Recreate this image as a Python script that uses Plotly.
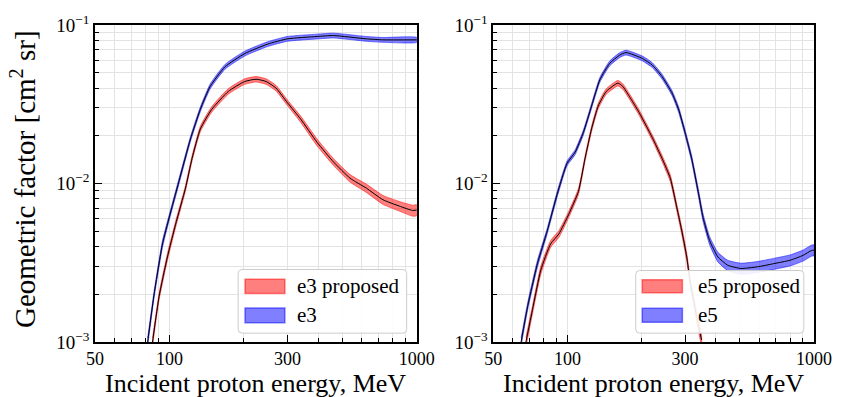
import plotly.graph_objects as go

# ---------------- data ----------------
# Left panel: e3
e3_E = [81.6, 86.8, 93.7, 99.7, 109.2, 121.6, 133.3, 146.1, 167.7, 201.5,
        249.5, 300, 395, 460, 625, 729, 1000]
e3_G = [0.001, 0.00203, 0.00416, 0.00608, 0.0103, 0.0191, 0.0294, 0.041, 0.0545, 0.066,
        0.0758, 0.0818, 0.0846, 0.0858, 0.0818, 0.0806, 0.0806]
e3_err = [0.06, 0.05, 0.05, 0.04, 0.04, 0.035, 0.035, 0.035, 0.035, 0.035,
          0.035, 0.035, 0.035, 0.035, 0.035, 0.035, 0.035]

e3p_E = [85.4, 90.8, 98.1, 105.9, 116.1, 123.4, 133.3, 148.3, 172.9, 201.5, 224,
         245.8, 269.5, 300, 339, 395, 460, 537, 625, 729, 850, 961, 1000]
e3p_G = [0.001, 0.00194, 0.00344, 0.00553, 0.00935, 0.0144, 0.0221, 0.0294, 0.0381, 0.044, 0.0455,
         0.044, 0.040, 0.0323, 0.0255, 0.0182, 0.0137, 0.0108, 0.00935, 0.0079, 0.0072, 0.00676, 0.0068]
e3p_err = [0.06, 0.05, 0.05, 0.045, 0.04, 0.04, 0.04, 0.04, 0.04, 0.04, 0.04,
           0.04, 0.04, 0.04, 0.045, 0.05, 0.05, 0.055, 0.06, 0.065, 0.07, 0.08, 0.08]

# Right panel: e5
e5_E = [64.9, 69, 75.6, 82.9, 90.8, 99.6, 107.6, 116.1, 125.3, 135.4, 148.5, 162.7,
        172.9, 201.5, 220.9, 242, 265.5, 282.3, 300, 319, 339, 355, 377.5, 407.6,
        447, 505, 589, 686, 800, 903, 976, 1000]
e5_G = [0.001, 0.00168, 0.00312, 0.00503, 0.0085, 0.01337, 0.0158, 0.021, 0.0308, 0.0451, 0.0573, 0.0645,
        0.067, 0.0615, 0.0559, 0.0473, 0.0373, 0.0294, 0.021, 0.0144, 0.00892, 0.00609, 0.00436, 0.00344,
        0.00305, 0.00291, 0.00298, 0.00312, 0.00328, 0.00352, 0.00378, 0.0038]
e5_err = [0.06, 0.05, 0.05, 0.04, 0.04, 0.035, 0.035, 0.035, 0.035, 0.035, 0.035, 0.035,
          0.035, 0.035, 0.035, 0.035, 0.035, 0.04, 0.04, 0.045, 0.05, 0.055, 0.06, 0.07,
          0.075, 0.08, 0.08, 0.08, 0.08, 0.08, 0.08, 0.08]

e5p_E = [67.9, 72.2, 78, 85.5, 92.3, 101.2, 110.9, 117.9, 125.3, 133.3, 143.8, 160.2,
         167.7, 178.3, 195.5, 220.9, 242, 261.4, 278, 291, 304.8, 314, 334, 350]
e5p_G = [0.001, 0.0016, 0.00284, 0.00416, 0.0048, 0.00638, 0.00892, 0.01435, 0.0221, 0.0308, 0.0381, 0.043,
         0.041, 0.0355, 0.028, 0.0195, 0.0144, 0.0108, 0.00703, 0.00503, 0.00344, 0.00246, 0.00146, 0.00103]
e5p_err = [0.07, 0.06, 0.06, 0.05, 0.05, 0.045, 0.045, 0.04, 0.04, 0.04, 0.04, 0.04,
           0.04, 0.04, 0.04, 0.04, 0.045, 0.05, 0.05, 0.055, 0.06, 0.06, 0.07, 0.08]

legend_left = ["e3 proposed", "e3"]
legend_right = ["e5 proposed", "e5"]

x_tickvals = [50, 100, 300, 1000]
x_ticktext = ["50", "100", "300", "1000"]
x_minor = [60, 70, 80, 90, 200, 400, 500, 600, 700, 800, 900]
y_tickvals = [1e-3, 1e-2, 1e-1]
y_ticktext = ["10<sup>−3</sup>", "10<sup>−2</sup>", "10<sup>−1</sup>"]
y_minor = [2e-3, 3e-3, 4e-3, 5e-3, 6e-3, 7e-3, 8e-3, 9e-3,
           2e-2, 3e-2, 4e-2, 5e-2, 6e-2, 7e-2, 8e-2, 9e-2]

RED = "rgba(255,0,0,0.5)"
BLUE = "rgba(0,0,255,0.5)"
FONT = "Liberation Serif"

# plot-area geometry in pixels (for layout placement only)
PX_L, PX_R, PX_T, PX_B = 95.0, 823.3, 19.3, 341.7
W_PX, H_PX = PX_R - PX_L, PX_B - PX_T


def px2x(px):
    return (px - PX_L) / W_PX


def px2y(py):
    return (PX_B - py) / H_PX


fig = go.Figure()


def add_series(E, G, err, color, xa, ya):
    lo = [g * (1 - e) for g, e in zip(G, err)]
    hi = [g * (1 + e) for g, e in zip(G, err)]
    fig.add_trace(go.Scatter(x=list(E) + list(E)[::-1], y=hi + lo[::-1], mode="lines",
                             fill="toself", fillcolor=color,
                             line=dict(color=color, width=1, shape="spline", smoothing=0.5),
                             showlegend=False, hoverinfo="skip", xaxis=xa, yaxis=ya))
    fig.add_trace(go.Scatter(x=E, y=G, mode="lines",
                             line=dict(color="black", width=1, shape="spline", smoothing=0.5),
                             showlegend=False, xaxis=xa, yaxis=ya))


add_series(e3_E, e3_G, e3_err, BLUE, "x", "y")
add_series(e3p_E, e3p_G, e3p_err, RED, "x", "y")
add_series(e5_E, e5_G, e5_err, BLUE, "x2", "y2")
add_series(e5p_E, e5p_G, e5p_err, RED, "x2", "y2")

GRID = "#e3e3e3"
xcommon = dict(type="log", range=[1.69897, 3], tickvals=x_tickvals, ticktext=x_ticktext,
               ticks="inside", ticklen=7, tickcolor="black", tickwidth=1,
               showgrid=True, gridcolor=GRID, gridwidth=1,
               minor=dict(tickvals=x_minor, ticks="inside", ticklen=4, tickcolor="black",
                          showgrid=True, gridcolor=GRID, gridwidth=1),
               showline=True, linecolor="black", linewidth=1.5, mirror=True,
               tickfont=dict(family=FONT, size=18, color="black"),
               zeroline=False)
ycommon = dict(type="log", range=[-3, -1], tickvals=y_tickvals, ticktext=y_ticktext,
               ticks="inside", ticklen=7, tickcolor="black", tickwidth=1,
               showgrid=True, gridcolor=GRID, gridwidth=1,
               minor=dict(tickvals=y_minor, ticks="inside", ticklen=4, tickcolor="black",
                          showgrid=True, gridcolor=GRID, gridwidth=1),
               showline=True, linecolor="black", linewidth=1.5, mirror=True,
               tickfont=dict(family=FONT, size=19, color="black"),
               zeroline=False)


def rounded_rect(x0, y0, x1, y1, r=4):
    # pixel rectangle -> paper-coordinate SVG path with rounded corners
    rx, ry = r / W_PX, r / H_PX
    X0, X1 = px2x(x0), px2x(x1)
    Yt, Yb = px2y(y0), px2y(y1)
    return (f"M{X0 + rx},{Yt} L{X1 - rx},{Yt} Q{X1},{Yt} {X1},{Yt - ry} "
            f"L{X1},{Yb + ry} Q{X1},{Yb} {X1 - rx},{Yb} L{X0 + rx},{Yb} "
            f"Q{X0},{Yb} {X0},{Yb + ry} L{X0},{Yt - ry} Q{X0},{Yt} {X0 + rx},{Yt} Z")


shapes = []
annotations = []


def add_legend(box, patch_x, rows, labels, text_x):
    shapes.append(dict(type="path", xref="paper", yref="paper", layer="above",
                       path=rounded_rect(*box), fillcolor="rgba(255,255,255,0.9)",
                       line=dict(color="#cccccc", width=1)))
    for (y0, y1), color, label in zip(rows, [RED, BLUE], labels):
        shapes.append(dict(type="rect", xref="paper", yref="paper", layer="above",
                           x0=px2x(patch_x[0]), x1=px2x(patch_x[1]),
                           y0=px2y(y1), y1=px2y(y0), fillcolor=color,
                           line=dict(color=color, width=1.5)))
        annotations.append(dict(text=label, xref="paper", yref="paper",
                                x=px2x(text_x), y=px2y((y0 + y1) / 2),
                                xanchor="left", yanchor="middle", showarrow=False,
                                font=dict(family=FONT, size=21, color="black")))


add_legend((240, 268, 410.7, 332.7), (247, 287.3), [(278, 292.5), (307, 322)], legend_left, 298)
add_legend((642.7, 269, 813, 332.7), (649.3, 690), [(278.3, 291.7), (307.3, 321.7)], legend_right, 704)

for xc in [(PX_L + 421) / 2, (498.3 + PX_R) / 2]:
    annotations.append(dict(text="Incident proton energy, MeV", xref="paper", yref="paper",
                            x=px2x(xc), y=px2y(384), xanchor="center", yanchor="middle",
                            showarrow=False, font=dict(family=FONT, size=26, color="black")))
annotations.append(dict(text="Geometric factor [cm<sup>2</sup> sr]", xref="paper", yref="paper",
                        x=px2x(22), y=px2y(176), xanchor="center", yanchor="middle",
                        showarrow=False, textangle=-90,
                        font=dict(family=FONT, size=29, color="black")))

fig.update_layout(
    width=844, height=397,
    margin=dict(l=95, r=21, t=19, b=55),
    paper_bgcolor="white", plot_bgcolor="white",
    font=dict(family=FONT, color="black"),
    xaxis=dict(domain=[0, px2x(421)], anchor="y", **xcommon),
    xaxis2=dict(domain=[px2x(498.3), 1], anchor="y2", **xcommon),
    yaxis=dict(domain=[0, 1], anchor="x", **ycommon),
    yaxis2=dict(domain=[0, 1], anchor="x2", **ycommon),
    showlegend=False,
    shapes=shapes,
    annotations=annotations,
)

fig.write_html("out.html", config={"displayModeBar": False},
               post_script="document.body.style.margin='0';")
